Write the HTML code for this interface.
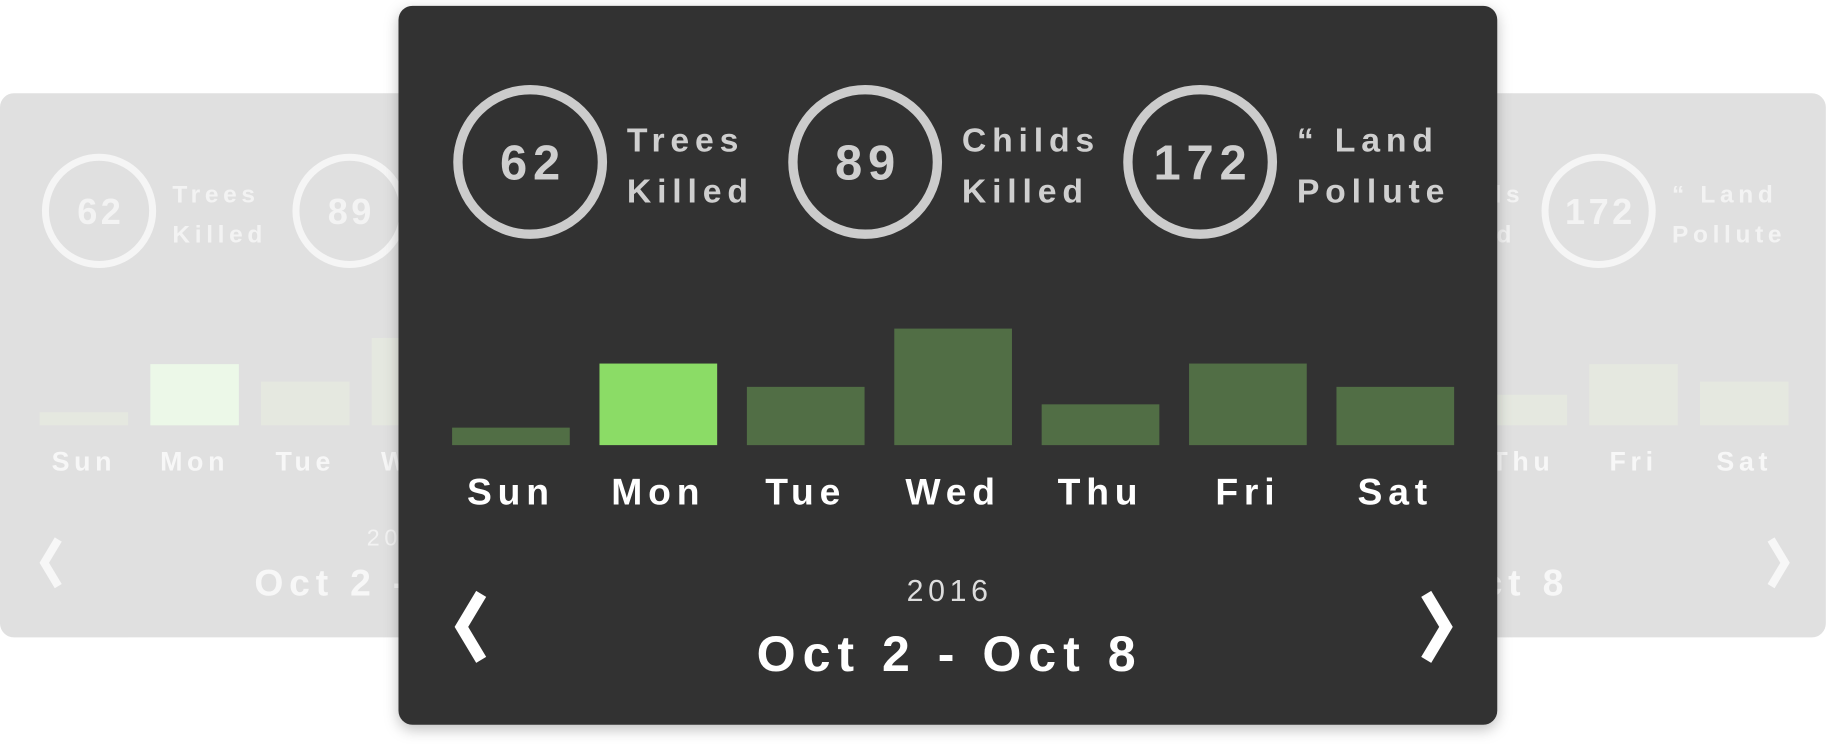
<!DOCTYPE html>
<html><head><meta charset="utf-8"><style>
html,body{margin:0;padding:0;background:#fff;width:1827px;height:744px;overflow:hidden}
svg{display:block}
text{font-family:"Liberation Sans",sans-serif}
</style></head><body>
<svg id="chart" width="1827" height="744" viewBox="0 0 1568 638.5" preserveAspectRatio="none" xmlns="http://www.w3.org/2000/svg">
<defs>
<filter id="sh" x="-10%" y="-10%" width="120%" height="120%"><feDropShadow dx="0" dy="4" stdDeviation="6" flood-color="#000" flood-opacity="0.25"/></filter>
</defs>
<rect x="0" y="80" width="700" height="467" rx="12" fill="#e0e0e0"/>
<rect x="900" y="80" width="667" height="467" rx="12" fill="#e0e0e0"/>
<g id="bgLeft"></g><g id="bgRight"></g>
<rect x="342" y="5" width="943" height="617" rx="12" fill="#333" filter="url(#sh)"/>
<g id="main"></g>
</svg>
<script>
const days = ["Sun","Mon","Tue","Wed","Thu","Fri","Sat"];
const values = [15, 70, 50, 100, 35, 70, 50];
const statNumbers = ["62","89","172"];
const statLine1 = ["Trees","Childs","\u201C Land"];
const statLine2 = ["Killed","Killed","Pollute"];
const highlightIndex = 1;
const yearLabel = "2016";
const rangeLabel = "Oct 2 - Oct 8";
const NS="http://www.w3.org/2000/svg";
function mk(parent,tag,attrs,txt){const e=document.createElementNS(NS,tag);for(const k in attrs)e.setAttribute(k,attrs[k]);if(txt!==undefined)e.textContent=txt;parent.appendChild(e);return e;}
function drawCard(g,o){
  const maxV=Math.max(...values);
  const yScale=v=>o.base - v/maxV*o.hmax;
  const xScale=i=>o.x0+i*o.pitch;
  days.forEach((d,i)=>{
    const y=yScale(values[i]);
    const r=mk(g,'rect',{x:xScale(i),y:y,width:o.bw,height:o.base-y,fill:i===highlightIndex?o.hi:o.bar});
    
    
    const t=mk(g,'text',{x:xScale(i)+o.bw/2,y:o.labY,'text-anchor':'middle','font-size':o.labFs,'letter-spacing':o.dls,fill:o.lab,style:'font-weight:bold'},d);
    
    
  });
  statNumbers.forEach((n,i)=>{
    const cx=o.cx0+i*o.cpitch, cy=o.cy;
    const c=mk(g,'circle',{cx:cx,cy:cy,r:o.cr,fill:'none',stroke:o.ring,'stroke-width':o.csw});
    
    
    const t=mk(g,'text',{x:cx+o.nls/2,y:cy+o.numFs*0.36,'text-anchor':'middle','font-size':o.numFs,'letter-spacing':o.nls,fill:o.txt,style:'font-weight:bold'},n);
    
    
    const a=mk(g,'text',{x:cx+o.tx,y:cy-o.tdy,'font-size':o.tFs,'letter-spacing':o.tls,fill:o.txt,style:'font-weight:bold'},statLine1[i]);
    
    
    const b=mk(g,'text',{x:cx+o.tx,y:cy+o.tdy2,'font-size':o.tFs,'letter-spacing':o.tls,fill:o.txt,style:'font-weight:bold'},statLine2[i]);
    
    
  });
  const yr=mk(g,'text',{x:o.mid,y:o.yrY,'text-anchor':'middle','font-size':o.yrFs,'letter-spacing':4,fill:o.yrc,style:'font-weight:normal'},yearLabel);
  
  
  const rg=mk(g,'text',{x:o.mid,y:o.rgY,'text-anchor':'middle','font-size':o.rgFs,'letter-spacing':o.rls,fill:o.lab,style:'font-weight:bold'},rangeLabel);
  
  
  const s=o.chS;
  if(o.prev!==null){const p=mk(g,'polyline',{points:`${o.prev+s*0.6},${o.chY-s} ${o.prev},${o.chY} ${o.prev+s*0.6},${o.chY+s}`,fill:'none',stroke:o.lab,'stroke-width':o.chW,'stroke-linecap':'square','stroke-linejoin':'miter'});
  
  }
  if(o.next!==null){const p=mk(g,'polyline',{points:`${o.next-s*0.6},${o.chY-s} ${o.next},${o.chY} ${o.next-s*0.6},${o.chY+s}`,fill:'none',stroke:o.lab,'stroke-width':o.chW,'stroke-linecap':'square','stroke-linejoin':'miter'});
  
  }
}
const bgStyle={pitch:95,bw:76,base:365,hmax:75,labY:404,labFs:23,dls:4,bar:'#e5e8e0',hi:'#ecf8e8',lab:'#f7f7f7',ring:'#f5f5f5',txt:'#f3f3f3',csw:6,cr:46,cy:181,cpitch:215,numFs:31,nls:3,tx:63,tdy:7,tdy2:27,tFs:21,tls:4,yrFs:20,yrc:'#f3f3f3',rgFs:32,rls:5,chS:17,chW:7,chY:483};
drawCard(document.getElementById('bgLeft'),Object.assign({},bgStyle,{x0:34,cx0:85,mid:345,yrY:468,rgY:511,prev:38,next:null}));
drawCard(document.getElementById('bgRight'),Object.assign({},bgStyle,{x0:889,cx0:942,mid:1220,yrY:468,rgY:511,prev:null,next:1532}));
drawCard(document.getElementById('main'),{x0:388,pitch:126.5,bw:101,base:382,hmax:100,labY:433,labFs:32,dls:5,bar:'#516e45',hi:'#8bdc66',lab:'#ffffff',ring:'#cccccc',txt:'#cfcfcf',csw:8,cr:62,cy:139,cx0:455,cpitch:287.5,numFs:42,nls:5,tx:83,tdy:9,tdy2:35,tFs:29,tls:5,mid:815,yrY:516,yrFs:26,yrc:'#dddddd',rgY:576,rgFs:43,rls:6,chS:24,chW:10,chY:538,prev:396,next:1241});
</script>
</body></html>
